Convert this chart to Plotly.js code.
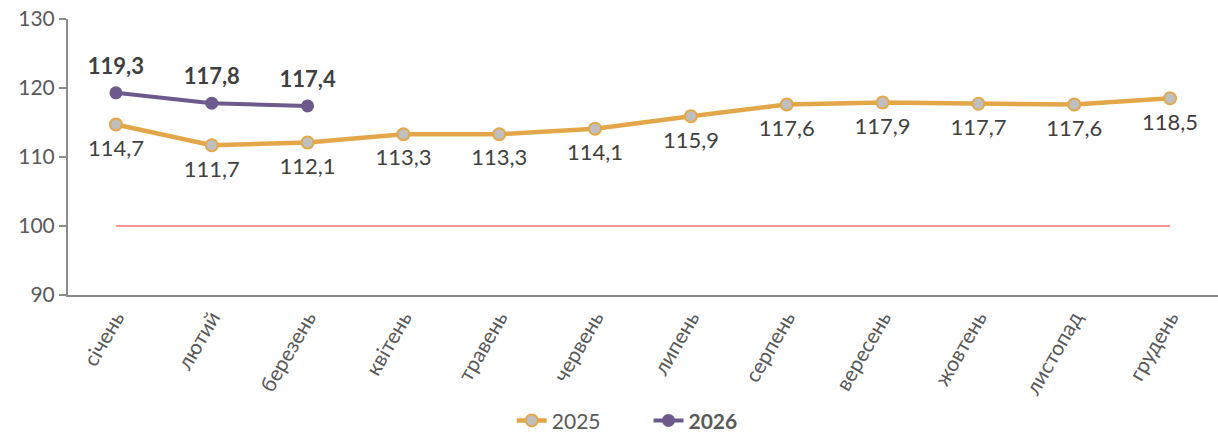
<!DOCTYPE html>
<html><head><meta charset="utf-8">
<script src="https://cdn.plot.ly/plotly-3.0.1.min.js"></script>
<style>html,body{margin:0;padding:0;background:#fff}#chart{width:1218px;height:432px}</style>
</head><body><div id="chart"></div>
<script>
const months = ["січень","лютий","березень","квітень","травень","червень","липень","серпень","вересень","жовтень","листопад","грудень"];
const values2025 = [114.7,111.7,112.1,113.3,113.3,114.1,115.9,117.6,117.9,117.7,117.6,118.5];
const months2026 = ["січень","лютий","березень"];
const values2026 = [119.3,117.8,117.4];
const baseline = [100,100,100,100,100,100,100,100,100,100,100,100];
const yTicks = [90,100,110,120,130];

const font = "Lato, 'Open Sans', sans-serif";
const clear = 'rgba(0,0,0,0)';
const traces = [
  {x: months, y: baseline, type:'scatter', mode:'lines', line:{color:'#FF2A2A', width:1}, showlegend:false, hoverinfo:'skip'},
  {x: months, y: values2025, name:'2025        ', type:'scatter', mode:'lines+markers',
   line:{color:'#E3A74A', width:4.5},
   marker:{size:12, color:'#BFBFBF', line:{color:'#E3A74A', width:2}}},
  {x: months2026, y: values2026, name:'<b>2026</b>', type:'scatter', mode:'lines+markers',
   line:{color:'#6D5A8C', width:4},
   marker:{size:13, color:'#6D5A8C'}},
  {x: months, y: values2025, type:'scatter', mode:'markers+text', showlegend:false, hoverinfo:'skip',
   marker:{size:22, color:clear},
   texttemplate:'%{y:.1f}', textposition:'bottom center',
   textfont:{size:22, color:'#404040', family:font}},
  {x: months2026, y: values2026, type:'scatter', mode:'markers+text', showlegend:false, hoverinfo:'skip',
   marker:{size:20, color:clear},
   texttemplate:'<b>%{y:.1f}</b>', textposition:'top center',
   textfont:{size:22, color:'#404040', family:font}}
];
const layout = {
  width:1218, height:432,
  margin:{l:68, r:0, t:19, b:137},
  separators:', ',
  paper_bgcolor:'#fff', plot_bgcolor:'#fff',
  font:{family:font, color:'#595959'},
  xaxis:{type:'category', categoryarray: months, range:[-0.5,11.5], showgrid:false, zeroline:false,
    automargin:false,
    showline:true, linecolor:'#8C8C8C', linewidth:2, ticks:'', tickangle:-60,
    tickfont:{size:21, color:'#595959', family:font}},
  yaxis:{range:[90,130], tickvals:yTicks, showgrid:false, zeroline:false, showline:true,
    automargin:false,
    linecolor:'#8C8C8C', linewidth:2, ticks:'outside', ticklen:7, tickcolor:'#8C8C8C', tickwidth:2,
    tickfont:{size:21, color:'#595959', family:font}},
  legend:{orientation:'h', xref:'container', yref:'container', x:0.515, xanchor:'center', y:0.026, yanchor:'middle',
    font:{size:21, color:'#595959', family:font}},
  showlegend:true
};
Plotly.newPlot('chart', traces, layout, {displayModeBar:false, staticPlot:true});
</script></body></html>
